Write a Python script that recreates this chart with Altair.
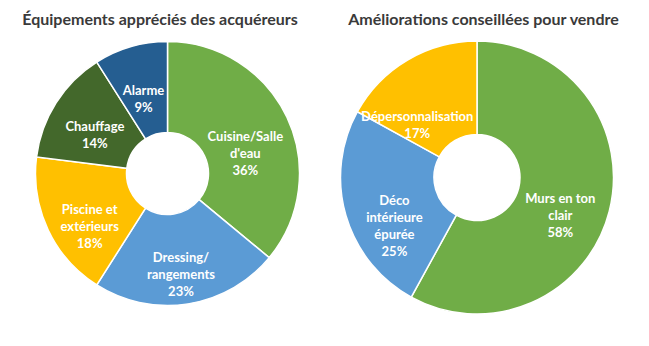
import altair as alt
import pandas as pd

left_title = "Équipements appréciés des acquéreurs"
left_labels = ["Cuisine/Salle\nd'eau", "Dressing/\nrangements", "Piscine et\nextérieurs", "Chauffage", "Alarme"]
left_values = [36, 23, 18, 14, 9]
left_colors = ["#70AD47", "#5B9BD5", "#FFC000", "#43682B", "#255E91"]

right_title = "Améliorations conseillées pour vendre"
right_labels = ["Murs en ton\nclair", "Déco\nintérieure\népurée", "Dépersonnalisation"]
right_values = [58, 25, 17]
right_colors = ["#70AD47", "#5B9BD5", "#FFC000"]

FONT = "Lato"
PAD_TOP = 12
TITLE_TOP = 34


def donut(title, labels, values, colors, width, cx, cy, r_out, r_in, r_lab, title_dx, nudge=None):
    df = pd.DataFrame({"label": labels, "value": values, "order": list(range(len(labels)))})
    base = alt.Chart(df).encode(
        theta=alt.Theta("value:Q", stack=True),
        order=alt.Order("order:Q"),
    )
    arcs = base.mark_arc(
        outerRadius=r_out, innerRadius=r_in, stroke="white", strokeWidth=1.5
    ).encode(
        color=alt.Color("label:N", scale=alt.Scale(domain=labels, range=colors), legend=None),
        x=alt.value(cx),
        y=alt.value(cy),
    )
    text_style = dict(
        radius=r_lab, font=FONT, fontSize=13, fontWeight="bold", color="white",
        lineBreak="\n", lineHeight=17, align="center", baseline="middle",
    )
    tbase = base.transform_calculate(txt="datum.label + '\\n' + datum.value + '%'")
    layers = [arcs]
    if nudge is None:
        layers.append(tbase.mark_text(**text_style).encode(text="txt:N", x=alt.value(cx), y=alt.value(cy)))
    else:
        idx, ndx, ndy = nudge
        layers.append(
            tbase.mark_text(**text_style)
            .encode(text="txt:N", x=alt.value(cx), y=alt.value(cy),
                    opacity=alt.condition(f"datum.order != {idx}", alt.value(1), alt.value(0)))
        )
        layers.append(
            tbase.mark_text(dx=ndx, dy=ndy, **text_style)
            .encode(text="txt:N", x=alt.value(cx), y=alt.value(cy),
                    opacity=alt.condition(f"datum.order == {idx}", alt.value(1), alt.value(0)))
        )
    return alt.layer(*layers).properties(
        width=width,
        height=346 - TITLE_TOP,
        title=alt.TitleParams(
            title, font=FONT, fontSize=16, fontWeight="bold", color="#3a3a3a",
            anchor="middle", offset=6, dx=title_dx,
        ),
    )


left = donut(left_title, left_labels, left_values, left_colors, 330, 167.5, 173.5 - TITLE_TOP, 132, 41, 86, -5)
right = donut(right_title, right_labels, right_values, right_colors, 319, 147, 177.5 - TITLE_TOP, 136.5, 43, 86, -6,
              nudge=(2, -16, 14))

chart = alt.hconcat(left, right, spacing=0).properties(
    padding={"left": 0, "top": PAD_TOP, "right": 0, "bottom": 0}
).configure_view(stroke=None)

chart.save("out.html", embed_options={"renderer": "svg", "actions": False})
